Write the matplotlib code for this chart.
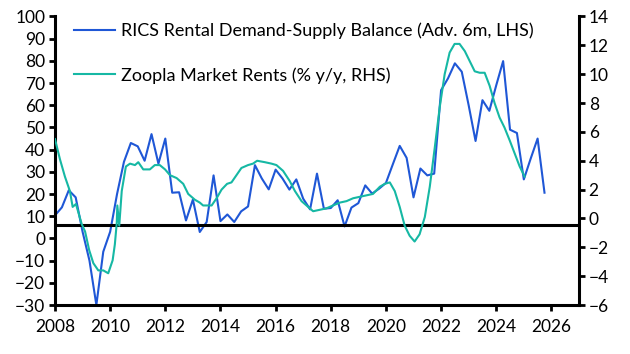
import numpy as np
import matplotlib
matplotlib.use("Agg")
import matplotlib.pyplot as plt

plt.rcParams['font.family'] = ['Lato', 'DejaVu Sans']

# RICS rental demand-supply balance (advanced 6m), quarterly from 2008 Q1
rics_start = 2008.0
rics_values = [10.4, 14, 21.7, 18.5, 3, -10, -30, -6, 3, 20, 34.5, 43,
               41.5, 35, 47, 33.7, 45, 20.6, 20.8, 8.1, 17.5, 2.9, 7.4, 28.4,
               7.8, 10.8, 7.4, 12.2, 14.4, 33, 27, 22.1, 31, 27, 22, 26.6,
               17.9, 13.1, 29.2, 13.4, 13.7, 17.2, 5.4, 13.9, 15.9, 23.9, 20.2, 22.4,
               25, 33.4, 41.7, 36.3, 18.5, 31.5, 28.4, 29.2, 66.8, 72.1, 78.9, 75.1,
               60, 43.9, 62.3, 57.5, 69, 79.9, 49, 47.5, 26.6, 36, 45, 20.6]

# Zoopla market rents, % y/y
zoopla_dates = [2008.00, 2008.18, 2008.36, 2008.54, 2008.64, 2008.76, 2008.97, 2009.09,
                2009.24, 2009.39, 2009.57, 2009.75, 2009.93, 2010.09, 2010.17, 2010.24,
                2010.26, 2010.33, 2010.42, 2010.57, 2010.72, 2010.90, 2011.02, 2011.20,
                2011.44, 2011.62, 2011.80, 2011.99, 2012.17, 2012.41, 2012.65, 2012.83,
                2013.07, 2013.25, 2013.37, 2013.68, 2013.86, 2014.04, 2014.24, 2014.40,
                2014.58, 2014.76, 2015.00, 2015.18, 2015.33, 2015.61, 2015.85, 2016.03,
                2016.27, 2016.51, 2016.70, 2016.94, 2017.18, 2017.36, 2017.60, 2017.84,
                2018.08, 2018.33, 2018.57, 2018.81, 2019.05, 2019.29, 2019.53, 2019.78,
                2019.96, 2020.14, 2020.32, 2020.50, 2020.68, 2020.86, 2021.04, 2021.22,
                2021.41, 2021.59, 2021.77, 2021.95, 2022.13, 2022.31, 2022.49, 2022.67,
                2022.86, 2023.04, 2023.22, 2023.40, 2023.58, 2023.76, 2023.94, 2024.12,
                2024.30, 2024.49, 2024.67, 2024.85, 2025.03]
zoopla_values = [5.5, 4.1, 2.9, 1.9, 0.8, 1.0, -0.4, -0.9,
                 -2.2, -3.1, -3.6, -3.6, -3.8, -2.9, -1.8, -0.3,
                 0.9, -0.5, 1.9, 3.6, 3.8, 3.7, 3.9, 3.4,
                 3.4, 3.7, 3.7, 3.4, 3.0, 2.8, 2.4, 1.7,
                 1.3, 1.1, 0.9, 0.9, 1.4, 2.0, 2.4, 2.5,
                 3.0, 3.5, 3.7, 3.8, 4.0, 3.9, 3.8, 3.7,
                 3.3, 2.6, 1.9, 1.2, 0.8, 0.5, 0.6, 0.7,
                 0.9, 1.1, 1.2, 1.4, 1.5, 1.6, 1.7, 2.2,
                 2.4, 2.5, 1.9, 0.8, -0.5, -1.2, -1.6, -1.1,
                 0.1, 2.2, 4.9, 7.7, 10.0, 11.5, 12.1, 12.1,
                 11.6, 10.9, 10.2, 10.1, 10.1, 9.2, 8.0, 7.0,
                 6.3, 5.4, 4.5, 3.6, 2.9]

blue = '#1f57d6'
teal = '#16b8a4'

rics_dates = rics_start + 0.25 * np.arange(len(rics_values))

fig = plt.figure(figsize=(6.3, 3.54), dpi=100)
ax1 = fig.add_axes([0.0873, 0.1384, 0.8317, 0.815])
ax2 = ax1.twinx()

l1, = ax1.plot(rics_dates, rics_values, color=blue, lw=1.5,
               label='RICS Rental Demand-Supply Balance (Adv. 6m, LHS)')
l2, = ax2.plot(zoopla_dates, zoopla_values, color=teal, lw=1.5,
               label='Zoopla Market Rents (% y/y, RHS)')
ax1.axhline(6, color='black', lw=2.2, zorder=5)

ax1.set_xlim(2008, 2027)
ax1.set_ylim(-30, 100)
ax2.set_ylim(-6, 14)
ax1.set_xticks(range(2008, 2027, 2))
ax1.set_yticks(range(-30, 101, 10))
ax2.set_yticks(range(-6, 15, 2))

for ax in (ax1, ax2):
    ax.spines['top'].set_visible(False)
    for s in ('left', 'right', 'bottom'):
        ax.spines[s].set_linewidth(2.2)
    ax.tick_params(width=2, length=4, labelsize=12.5, pad=3)
ax1.spines['right'].set_visible(False)
ax2.spines['left'].set_visible(False)
ax2.spines['bottom'].set_visible(False)
ax1.tick_params(axis='x', pad=6)

leg = ax1.legend(handles=[l1, l2], loc='upper left', frameon=False,
                 fontsize=13, handlelength=2.3, labelspacing=1.55,
                 bbox_to_anchor=(0.005, 1.035), handletextpad=0.3)

fig.savefig('out.png', dpi=100)
